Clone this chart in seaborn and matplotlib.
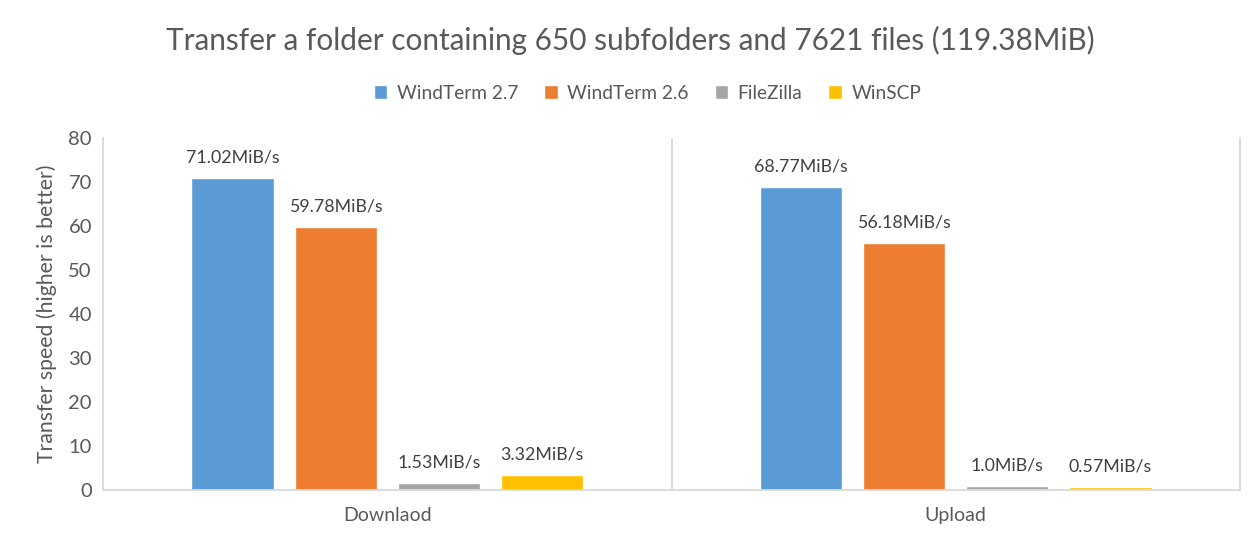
import matplotlib
matplotlib.use("Agg")
import matplotlib.pyplot as plt
import pandas as pd
import seaborn as sns

# values
directions = ["Downlaod", "Upload"]
tools = ["WindTerm 2.7", "WindTerm 2.6", "FileZilla", "WinSCP"]
windterm27 = [71.02, 68.77]
windterm26 = [59.78, 56.18]
filezilla = [1.53, 1.0]
winscp = [3.32, 0.57]
value_labels = {
    "WindTerm 2.7": ["71.02MiB/s", "68.77MiB/s"],
    "WindTerm 2.6": ["59.78MiB/s", "56.18MiB/s"],
    "FileZilla": ["1.53MiB/s", "1.0MiB/s"],
    "WinSCP": ["3.32MiB/s", "0.57MiB/s"],
}
colors = ["#5B9BD5", "#ED7D31", "#A5A5A5", "#FFC000"]

rows = []
for tool, vals in zip(tools, [windterm27, windterm26, filezilla, winscp]):
    for d, v in zip(directions, vals):
        rows.append({"direction": d, "tool": tool, "speed": v})
df = pd.DataFrame(rows)

sns.set_style("white")
plt.rcParams["font.family"] = ["Lato", "DejaVu Sans"]
text_color = "#595959"
line_color = "#D9D9D9"

fig = plt.figure(figsize=(12.6, 5.4), dpi=100)
ax = fig.add_axes([103 / 1260, 50 / 540, (1240 - 103) / 1260, (490 - 138) / 540])

sns.barplot(data=df, x="direction", y="speed", hue="tool", hue_order=tools,
            order=directions, palette=colors, width=0.725, gap=0.2,
            saturation=1, ax=ax, legend=True)

for cont, tool in zip(ax.containers, tools):
    ax.bar_label(cont, labels=value_labels[tool], padding=9,
                 fontsize=12.8, color="#404040")

ax.set_ylim(0, 80)
ax.set_yticks(range(0, 81, 10))
ax.set_xlim(-0.5, 1.5)
ax.axvline(0.5, color=line_color, lw=1.3, zorder=0)
ax.spines["top"].set_visible(False)
for side in ["left", "right", "bottom"]:
    ax.spines[side].set_color(line_color)
    ax.spines[side].set_linewidth(1.3)

ax.tick_params(axis="y", length=0, labelsize=14.5, colors=text_color, pad=8)
ax.tick_params(axis="x", length=0, labelsize=14, colors=text_color, pad=12)
ax.set_xlabel("")
ax.set_ylabel("Transfer speed (higher is better)", fontsize=15.3,
              color=text_color, labelpad=8)

handles, labels = ax.get_legend_handles_labels()
ax.get_legend().remove()
fig.legend(handles, labels, loc="center", bbox_to_anchor=(0.514, 1 - 93 / 540),
           ncol=4, frameon=False, fontsize=13.8, labelcolor=text_color,
           handlelength=0.7, handleheight=0.7, handletextpad=0.5,
           columnspacing=1.35)

fig.text(0.5, 1 - 40 / 540,
         "Transfer a folder containing 650 subfolders and 7621 files (119.38MiB)",
         ha="center", va="center", fontsize=21.4, color=text_color)

fig.savefig("out.png", dpi=100)
